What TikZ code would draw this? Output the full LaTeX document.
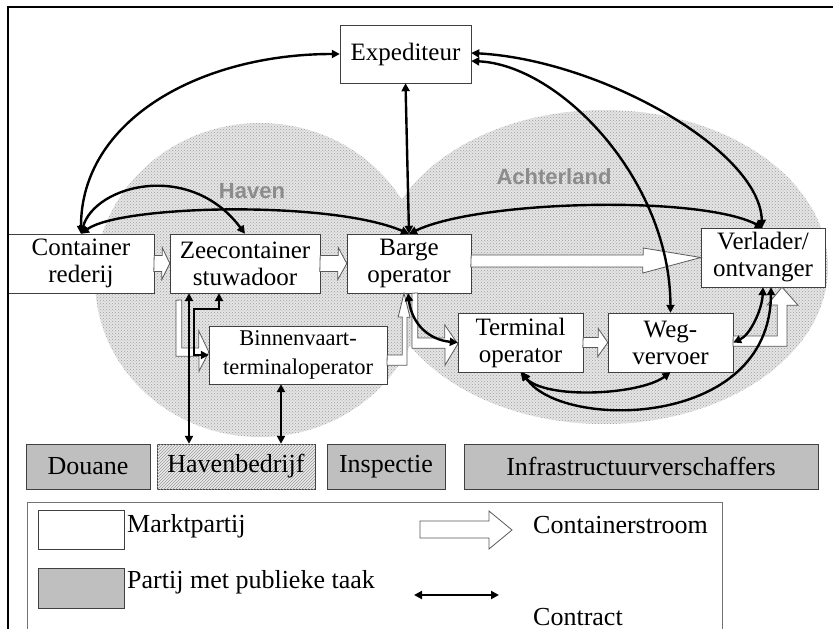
\documentclass[tikz,border=0pt]{standalone}
\usepackage{fontspec}
\setmainfont{Liberation Serif}
\newfontfamily\zonefont{Liberation Sans}
\usetikzlibrary{arrows.meta,calc,patterns}

\begin{document}
\begin{tikzpicture}[
  x=1pt, y=-1pt,
  font=\fontsize{25}{27}\selectfont,
  partij/.style={draw=black!75, fill=white, align=center, inner sep=0pt, minimum height=59pt},
  publiek/.style={partij, fill=black!25, minimum height=45pt, font=\fontsize{26}{28}\selectfont},
  zone/.style={preaction={fill=black!10}, pattern=crosshatch dots, pattern color=black!38},
  zonelabel/.style={font=\zonefont\bfseries\fontsize{22}{24}\selectfont, text=black!45},
  flow/.style={draw=black!65, fill=white, line width=0.8pt, line join=miter},
  contract/.style={{Triangle[length=8pt,width=8pt]}-{Triangle[length=8pt,width=8pt]}, line width=2.4pt},
  legtext/.style={anchor=base west, inner sep=0pt, font=\fontsize{26}{28}\selectfont}
]
\useasboundingbox (0,0) rectangle (833,629);

% gebieden
\path[zone] (260,280) ellipse [x radius=165pt, y radius=157pt];
\path[zone] (604,267) ellipse [x radius=224pt, y radius=157pt];
\node[zonelabel] (havenlbl) at (252,191) {Haven};
\node[zonelabel] (achterlbl) at (554,177) {Achterland};

% marktpartijen
\node[partij, minimum width=131pt, minimum height=58pt] (exped) at (405.5,54) {Expediteur};
\node[partij, minimum width=146pt] (rederij) at (81,263.5) {Container\\rederij};
\node[partij, minimum width=150pt] (stuw) at (245,263.5) {Zeecontainer\\stuwadoor};
\node[partij, minimum width=124pt] (barge) at (409,263.5) {Barge\\operator};
\node[partij, minimum width=124pt] (verlader) at (763,257.5) {Verlader/\\ontvanger};
\node[partij, minimum width=178pt, minimum height=58pt, font=\fontsize{22.5}{29}\selectfont] (binnen) at (298,355) {Binnenvaart-\\terminaloperator};
\node[partij, minimum width=125pt] (terminal) at (520.5,342.5) {Terminal\\operator};
\node[partij, minimum width=125pt] (weg) at (670.5,342.5) {Weg-\\vervoer};

% partijen met publieke taak
\node[publiek, minimum width=124pt] (douane) at (88,466.5) {Douane};
\node[publiek, minimum width=158pt, fill=black!8, postaction={pattern=north east lines, pattern color=black!40}] (havenbedr) at (236,466.5) {Havenbedrijf};
\node[publiek, minimum width=118pt] (inspectie) at (386,466.5) {Inspectie};
\node[publiek, minimum width=354pt] (infra) at (641,466.5) {Infrastructuurverschaffers};

% containerstromen
\draw[flow] ([yshift=8pt]rederij.east) -- ++(8,0) -- ++(0,-8) -- (stuw.west) -- ++(-8,16) -- ++(0,-8) -- ++(-8,0) -- cycle;
\draw[flow] ([yshift=8pt]stuw.east) -- ++(18,0) -- ++(0,-8) -- (barge.west) -- ++(-9,16) -- ++(0,-8) -- ++(-18,0) -- cycle;
\draw[flow] ([yshift=8.5pt]barge.east) -- ++(172,0) -- ++(0,-7) -- (verlader.west) -- ++(-58,15.5) -- ++(0,-6) -- ++(-172,0) -- cycle;
\draw[flow] ([xshift=-69pt,yshift=-7pt]stuw.south) -- ++(0,56) -- ++(23,0) -- ++(0,15) -- ([yshift=3pt]binnen.west) -- ++(-10,-21) -- ++(0,17) -- ++(-17,0) -- ++(0,-48) -- cycle;
\draw[flow] (binnen.east) -- ++(15,0) -- ++(0,-38) -- ++(-4,0) -- ([xshift=-5pt]barge.south) -- ++(6,24) -- ++(-3,0) -- ++(0,48) -- ++(-20,0) -- cycle;
\draw[flow] ([xshift=3pt]barge.south) -- ++(0,55) -- ++(33,0) -- ++(0,17) -- ([yshift=-1.5pt]terminal.west) -- ++(-13,-19) -- ++(0,13) -- ++(-27,0) -- ++(0,-45) -- cycle;
\draw[flow] ([yshift=5pt]terminal.east) -- ++(15,0) -- ++(0,-9) -- (weg.west) -- ++(-10,14) -- ++(0,-9) -- ++(-15,0) -- cycle;
\draw[flow] ([yshift=6.5pt]weg.east) -- ++(44,0) -- ++(0,-31) -- ++(-10,0) -- ([xshift=19pt]verlader.south) -- ++(16,18) -- ++(-11,0) -- ++(0,41) -- ++(-54,0) -- cycle;

% contracten
\coordinate (knik) at (194,309);
\draw[contract] (rederij.north) .. controls (81,120) and (200,54) .. (exped.west);
\draw[contract] (rederij.north) .. controls (95,185) and (190,160) .. (stuw.north);
\draw[contract] (rederij.north) .. controls (120,205) and (330,200) .. (barge.north);
\draw[contract] (barge.north) -- (exped.south);
\draw[contract] (barge.north) .. controls (480,200) and (700,195) .. (verlader.north);
\draw[contract] ([yshift=1pt]exped.east) .. controls (600,60) and (760,150) .. ([xshift=-1pt]verlader.north);
\draw[contract] ([yshift=-7pt]exped.east) .. controls (560,65) and (670,180) .. (weg.north);
\draw[contract] ([xshift=-1pt]barge.south) .. controls (412,325) and (430,340) .. (terminal.west);
\draw[contract] ([xshift=-56pt]stuw.south) -- ([xshift=-56pt]stuw.south |- havenbedr.north);
\draw[contract] ([xshift=-26pt]stuw.south) |- (knik) |- (binnen.west);
\draw[contract] ([xshift=-17pt]binnen.south) -- ([xshift=-17pt]binnen.south |- havenbedr.north);
\draw[contract] (terminal.south) .. controls (545,400) and (640,395) .. (weg.south);
\draw[contract] ([xshift=2pt]terminal.south) .. controls (560,430) and (770,430) .. ([xshift=8pt]verlader.south);
\draw[contract] (weg.east) .. controls (750,335) and (762,310) .. (verlader.south);

% legenda
\draw[black!55, line width=0.8pt] (27,629) -- (27,502) -- (722,502) -- (722,629);
\node[partij, minimum width=86pt, minimum height=39pt] (legmarkt) at (81,529.5) {};
\node[publiek, minimum width=86pt, minimum height=40pt] (legpubliek) at (81,588) {};
\node[legtext] (legmarkttxt) at (127,532) {Marktpartij};
\node[legtext] (legpubliektxt) at (127,588) {Partij met publieke taak};
\coordinate (legflow) at (420,521);
\draw[flow] (legflow) -- ++(69,0) -- ++(0,-10) -- ++(23,19) -- ++(-23,19) -- ++(0,-11) -- ++(-69,0) -- cycle;
\node[legtext] (legflowtxt) at (533,533) {Containerstroom};
\coordinate (legc1) at (414,595);
\coordinate (legc2) at (499,595);
\draw[contract] (legc1) -- (legc2);
\node[legtext] (legctxt) at (533,625) {Contract};

% kader
\draw[line width=2pt] (8,629) -- (8,7) -- (833,7);
\end{tikzpicture}
\end{document}
